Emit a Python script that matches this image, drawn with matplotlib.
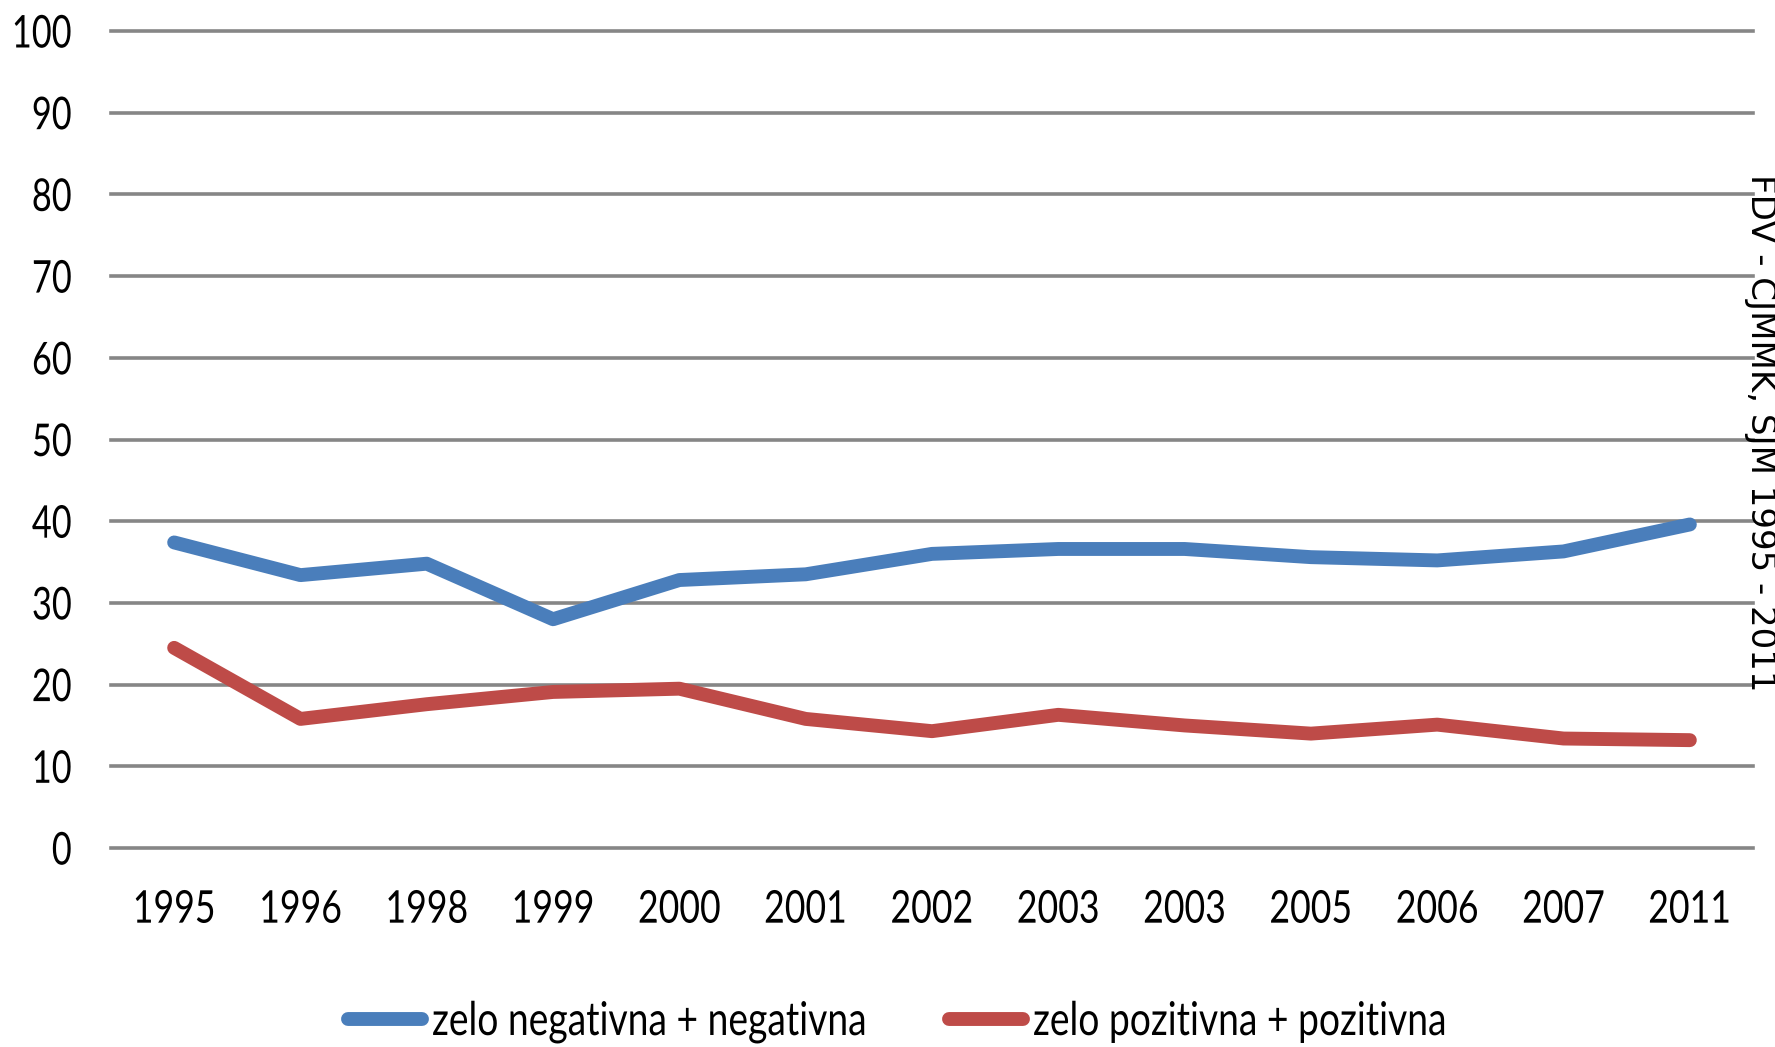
import matplotlib
matplotlib.use("Agg")
import matplotlib.pyplot as plt
from matplotlib.lines import Line2D
from matplotlib.patheffects import AbstractPathEffect
from matplotlib.transforms import Affine2D

# data
years = ["1995", "1996", "1998", "1999", "2000", "2001", "2002",
         "2003", "2003", "2005", "2006", "2007", "2011"]
negativna = [37.4, 33.4, 34.8, 28.0, 32.8, 33.5, 36.0,
             36.6, 36.6, 35.6, 35.2, 36.3, 39.6]
pozitivna = [24.5, 15.8, 17.6, 19.1, 19.5, 15.8, 14.3,
             16.3, 15.0, 14.0, 15.1, 13.4, 13.2]
labels = ["zelo negativna + negativna", "zelo pozitivna + pozitivna"]
colors = ["#4A7EBB", "#BE4B48"]
source = "FDV - CJMMK, SJM 1995 - 2011"


# narrow the glyphs horizontally (reference uses a condensed face)
class Squeeze(AbstractPathEffect):
    def __init__(self, sx=0.79, anchor="center"):
        super().__init__()
        self.sx = sx
        self.anchor = anchor

    def draw_path(self, renderer, gc, tpath, affine, rgbFace=None):
        ext = tpath.get_extents(affine)
        if self.anchor == "left":
            x0 = ext.x0
        elif self.anchor == "right":
            x0 = ext.x1
        else:
            x0 = (ext.x0 + ext.x1) / 2
        sq = Affine2D().translate(-x0, 0).scale(self.sx, 1).translate(x0, 0)
        renderer.draw_path(gc, tpath, affine + sq, rgbFace)


plt.rcParams["font.family"] = ["Lato", "DejaVu Sans"]
FS = 32.5

fig = plt.figure(figsize=(17.75, 10.47), dpi=100)
ax = fig.add_axes([111 / 1775, 1 - 848 / 1047, 1642 / 1775, 817 / 1047])

x = range(len(years))
ax.plot(x, negativna, color=colors[0], lw=10, solid_capstyle="round", zorder=3)
ax.plot(x, pozitivna, color=colors[1], lw=10, solid_capstyle="round", zorder=3)

ax.set_xlim(-0.5, len(years) - 0.5)
ax.set_ylim(0, 100)
ax.set_yticks(range(0, 101, 10))
ax.set_xticks(list(x))
ax.set_xticklabels(years)
ax.yaxis.grid(True, color="#868686", lw=2.6)
ax.set_axisbelow(True)
for gl in ax.get_ygridlines():
    gl.set_clip_on(False)
for s in ax.spines.values():
    s.set_visible(False)
ax.tick_params(axis="both", length=0, labelsize=FS)
ax.tick_params(axis="x", pad=30)
ax.tick_params(axis="y", pad=28)
for lbl in ax.get_xticklabels():
    lbl.set_path_effects([Squeeze(anchor="center")])
for lbl in ax.get_yticklabels():
    lbl.set_path_effects([Squeeze(sx=0.76, anchor="right")])

# legend: one entry each, placed where the reference has them
for i, xpos in enumerate([348, 949]):
    h = Line2D([], [], color=colors[i], lw=10, solid_capstyle="round")
    leg = fig.legend([h], [labels[i]], loc="center left",
                     bbox_to_anchor=(xpos / 1775, 1 - 1022 / 1047),
                     frameon=False, fontsize=33.5, handlelength=1.6,
                     handletextpad=0.2, borderpad=0, borderaxespad=0)
    for t in leg.get_texts():
        t.set_path_effects([Squeeze(sx=0.8, anchor="left")])

fig.text(1761 / 1775, 1 - 433 / 1047, source, rotation=-90,
         ha="center", va="center", fontsize=24.5, family="DejaVu Sans")

fig.savefig("out.png", dpi=100)
